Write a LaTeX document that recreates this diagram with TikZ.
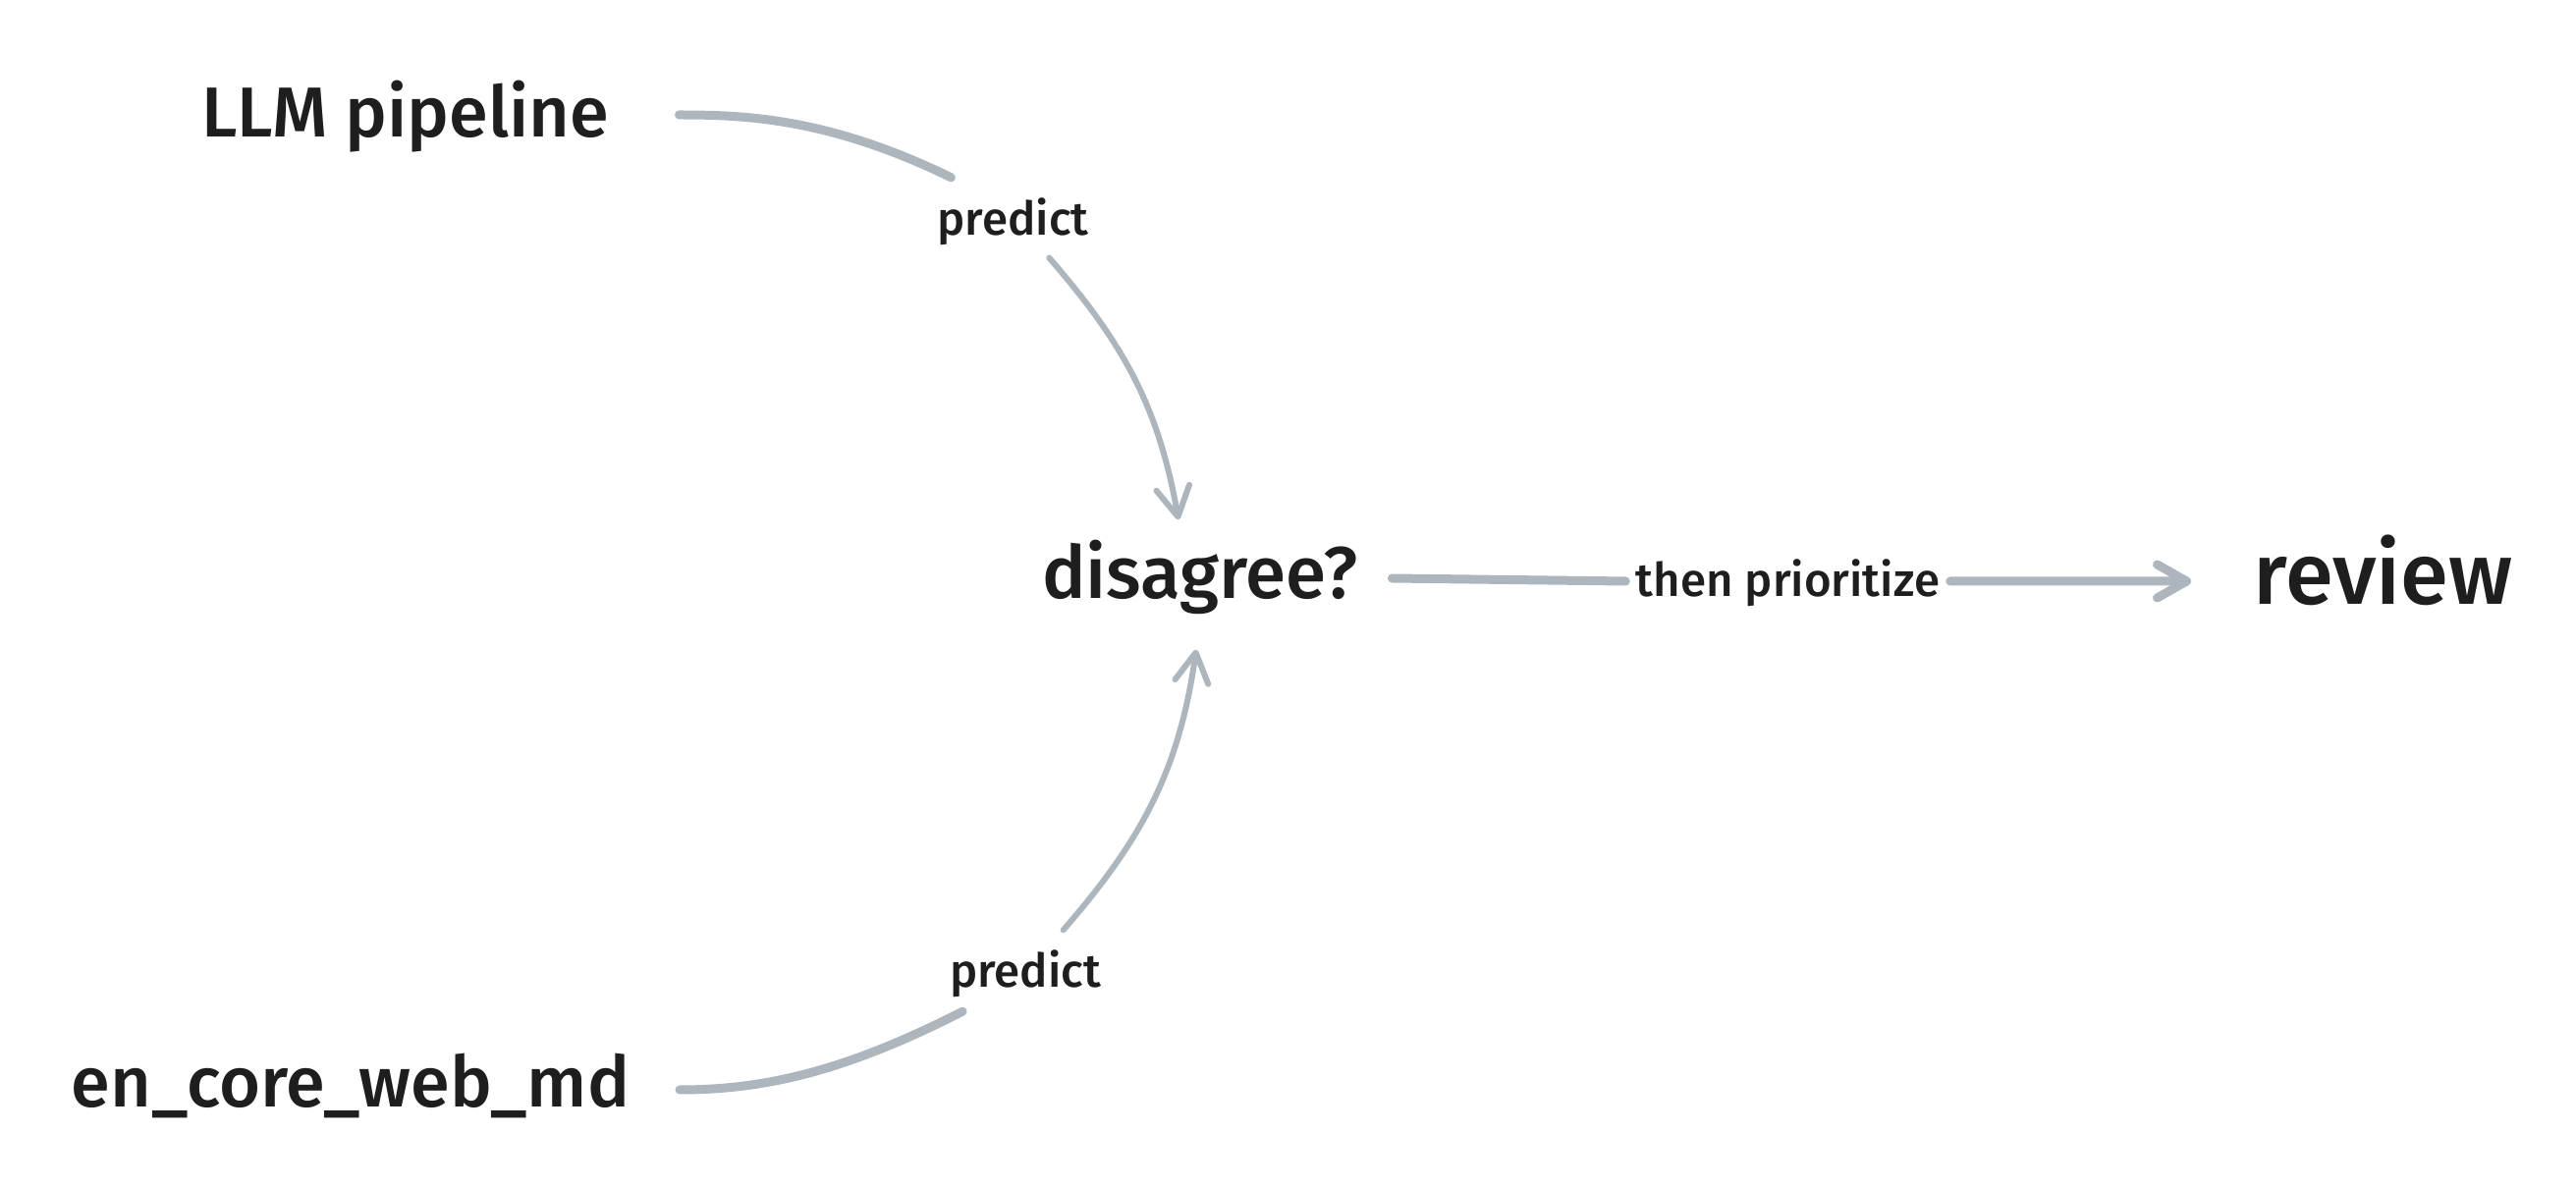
\documentclass[tikz,border=0pt]{standalone}
\usepackage{fontspec}
\setmainfont{Fira Sans}[UprightFont={* Medium}]
\usetikzlibrary{arrows.meta}
\definecolor{edgegray}{HTML}{ADB5BD}
\definecolor{inkc}{HTML}{1E1E1E}
\begin{document}
\begin{tikzpicture}[x=0.1mm,y=-0.1mm,
  every node/.style={text=inkc, inner sep=0pt},
  term/.style={font=\fontsize{20.5}{24}\selectfont},
  midterm/.style={font=\fontsize{21.2}{25}\selectfont},
  bigterm/.style={font=\fontsize{25.2}{30}\selectfont},
  lbl/.style={font=\fontsize{13.5}{16}\selectfont, fill=white, inner xsep=1mm},
  thickseg/.style={draw=edgegray, line width=0.9mm, line cap=round},
  thinseg/.style={draw=edgegray, line width=0.6mm, line cap=round},
  tip/.style={-{Straight Barb[length=3mm,width=3.4mm,round]}},
]
\useasboundingbox (0,0) rectangle (2623,1209);

\node[term, anchor=base east, text height=4.5mm, text depth=0pt] (llm) at (621,139.5) {LLM pipeline};
\node[term, anchor=base east, text height=3.4mm, text depth=0pt] (en) at (642,1127) {en\_core\_web\_md};
\node[midterm, anchor=base, text height=8mm, text depth=5.1mm, inner xsep=3.4mm] (dis) at (1222,610) {disagree?};
\node[bigterm, anchor=base west, text height=4.8mm, text depth=0pt, inner xsep=6.3mm] (rev) at (2231,616) {review};

\node[lbl, anchor=base, text height=3.85mm, text depth=0.2mm, inner ysep=2mm] (p1) at (1031.5,240) {predict};
\node[lbl, anchor=base, text height=3.8mm, text depth=0.35mm, inner ysep=2mm] (p2) at (1044,1006) {predict};
\node[lbl, anchor=base, text height=4mm, text depth=0.8mm, inner ysep=0.5mm] (tp) at (1820.5,608) {then prioritize};

\draw[thickseg, shorten <=7.05mm] (llm) to[out=0,in=154] (p1.147);
\draw[thinseg, tip] (p1.-48.5) to[out=-49,in=100] ([xshift=-2.2mm]dis.north);

\draw[thickseg, shorten <=5mm] (en) to[out=0,in=207] (p2.213.7);
\draw[thinseg, tip] (p2.47.8) to[out=49,in=-98] ([xshift=-0.4mm]dis.south);

\draw[thickseg] ([yshift=0.65mm]dis.east) -- (tp.west);
\draw[thickseg, tip] (tp.east) -- (rev.west);
\end{tikzpicture}
\end{document}
